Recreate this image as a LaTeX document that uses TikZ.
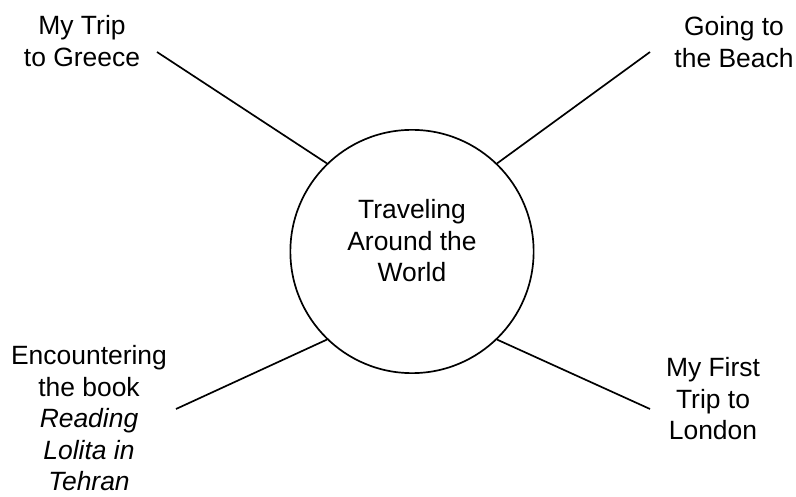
\documentclass[tikz,border=0pt]{standalone}
\usepackage{fontspec}
\setmainfont{Liberation Sans}
\begin{document}
\begin{tikzpicture}[
 x=.025cm,y=-.025cm,
 line/.style={line width=1.2pt},
 hub/.style={circle,draw,line width=1.2pt,minimum size=6.08cm,inner sep=0pt},
 topic/.style={align=center,inner sep=0pt,font=\fontsize{18.8}{22.4}\selectfont}]
 \useasboundingbox (0,0) rectangle (796,497);
 % Central circle with its title.
 \node[hub] (hub) at (412,251.5){};
 \node[topic] (title) at (412,241){Traveling\\Around the\\World};
 % The four topics round it.
 \node[topic] (greece) at (82,41){My Trip\\to Greece};
 \node[topic] (beach) at (734,42){Going to\\the Beach};
 \node[topic] (tehran) at (89,418.5){Encountering\\the book\\\textit{Reading}\\\textit{Lolita in}\\\textit{Tehran}};
 \node[topic] (london) at (713,399){My First\\Trip to\\London};
 % Spokes from the topics to the circle.
 \coordinate (greece-tip) at (157,52); \coordinate (beach-tip) at (650,52);
 \coordinate (tehran-tip) at (176,409); \coordinate (london-tip) at (650,409);
 \foreach \c/\a in {greece-tip/134,beach-tip/46,tehran-tip/226,london-tip/314}{
   \draw[line] (\c)--(hub.\a);
 }
\end{tikzpicture}
\end{document}
